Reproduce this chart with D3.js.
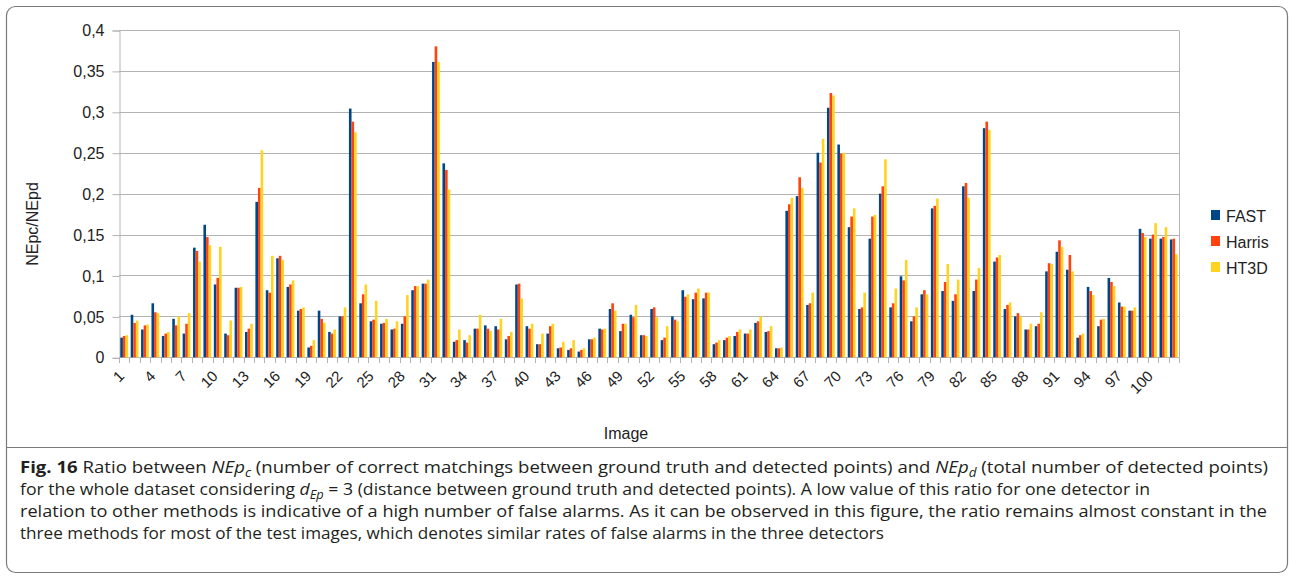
<!DOCTYPE html>
<html>
<head>
<meta charset="utf-8">
<script src="https://cdn.jsdelivr.net/npm/d3@7"></script>
<style>
  html, body { margin: 0; padding: 0; background: #ffffff; }
  svg { display: block; }
</style>
</head>
<body>
<svg id="chart" width="1291" height="577"></svg>
<script>
// ---------------- DATA ----------------
const categories = d3.range(1, 103).map(String);   // Image 1 .. 102
const seriesNames = ["FAST", "Harris", "HT3D"];
const seriesColors = ["#004586", "#ff420e", "#ffd320"];
const yTickValues = [0, 0.05, 0.1, 0.15, 0.2, 0.25, 0.3, 0.35, 0.4];
const yTickLabels = ["0", "0,05", "0,1", "0,15", "0,2", "0,25", "0,3", "0,35", "0,4"];

const fast = [
  0.024, 0.052, 0.034, 0.066, 0.026, 0.047, 0.029, 0.134, 0.162, 0.089,
  0.029, 0.085, 0.031, 0.190, 0.082, 0.121, 0.086, 0.057, 0.012, 0.057,
  0.031, 0.050, 0.304, 0.066, 0.044, 0.041, 0.034, 0.041, 0.082, 0.090,
  0.361, 0.237, 0.019, 0.021, 0.035, 0.039, 0.038, 0.022, 0.089, 0.038,
  0.016, 0.029, 0.011, 0.009, 0.007, 0.022, 0.035, 0.059, 0.032, 0.052,
  0.027, 0.059, 0.021, 0.050, 0.082, 0.071, 0.072, 0.016, 0.021, 0.026,
  0.029, 0.042, 0.031, 0.011, 0.179, 0.197, 0.064, 0.250, 0.305, 0.260,
  0.159, 0.059, 0.145, 0.200, 0.061, 0.099, 0.044, 0.077, 0.182, 0.081,
  0.069, 0.209, 0.081, 0.280, 0.117, 0.059, 0.050, 0.034, 0.038, 0.105,
  0.129, 0.107, 0.024, 0.086, 0.038, 0.097, 0.067, 0.057, 0.157, 0.145,
  0.145, 0.144
];
const harris = [
  0.026, 0.042, 0.039, 0.055, 0.029, 0.039, 0.041, 0.130, 0.147, 0.097,
  0.027, 0.085, 0.035, 0.207, 0.079, 0.124, 0.089, 0.059, 0.014, 0.047,
  0.029, 0.050, 0.288, 0.077, 0.046, 0.042, 0.035, 0.050, 0.087, 0.090,
  0.380, 0.229, 0.021, 0.018, 0.035, 0.035, 0.034, 0.026, 0.090, 0.035,
  0.016, 0.038, 0.012, 0.011, 0.009, 0.022, 0.034, 0.066, 0.041, 0.049,
  0.027, 0.061, 0.024, 0.046, 0.074, 0.079, 0.079, 0.018, 0.024, 0.031,
  0.029, 0.044, 0.032, 0.011, 0.187, 0.220, 0.066, 0.238, 0.323, 0.249,
  0.172, 0.061, 0.172, 0.209, 0.066, 0.094, 0.050, 0.082, 0.185, 0.092,
  0.077, 0.213, 0.095, 0.288, 0.122, 0.064, 0.054, 0.034, 0.041, 0.115,
  0.143, 0.125, 0.027, 0.081, 0.046, 0.092, 0.062, 0.057, 0.152, 0.150,
  0.147, 0.145
];
const ht3d = [
  0.027, 0.045, 0.040, 0.054, 0.031, 0.050, 0.054, 0.117, 0.137, 0.135,
  0.045, 0.086, 0.041, 0.253, 0.124, 0.119, 0.094, 0.061, 0.021, 0.042,
  0.034, 0.061, 0.275, 0.089, 0.069, 0.047, 0.044, 0.076, 0.087, 0.095,
  0.361, 0.205, 0.034, 0.027, 0.052, 0.032, 0.047, 0.031, 0.072, 0.041,
  0.029, 0.041, 0.019, 0.021, 0.011, 0.024, 0.035, 0.057, 0.041, 0.064,
  0.026, 0.049, 0.038, 0.044, 0.077, 0.084, 0.079, 0.021, 0.026, 0.034,
  0.034, 0.050, 0.038, 0.012, 0.195, 0.207, 0.079, 0.267, 0.320, 0.250,
  0.182, 0.079, 0.174, 0.242, 0.084, 0.119, 0.061, 0.077, 0.194, 0.114,
  0.095, 0.195, 0.109, 0.278, 0.125, 0.067, 0.050, 0.041, 0.055, 0.114,
  0.135, 0.105, 0.029, 0.076, 0.047, 0.087, 0.062, 0.061, 0.147, 0.164,
  0.159, 0.126
];
const seriesValues = [fast, harris, ht3d];

// ---------------- LAYOUT ----------------
const svg = d3.select("#chart");
const plot = { left: 119, right: 1179, top: 30, bottom: 357.3 };
const chartFont = "'Liberation Sans', Arial, sans-serif";
const gridColor = "#b3b3b3";

// frame
svg.append("rect")
  .attr("x", 6.5).attr("y", 6.5).attr("width", 1281).attr("height", 566)
  .attr("rx", 9).attr("ry", 9)
  .attr("fill", "none").attr("stroke", "#7a7a7a").attr("stroke-width", 1.2);
svg.append("line")
  .attr("x1", 6.5).attr("x2", 1287.5).attr("y1", 447.5).attr("y2", 447.5)
  .attr("stroke", "#7a7a7a").attr("stroke-width", 1.2);

// scales
const x0 = d3.scaleBand().domain(categories).range([plot.left, plot.right])
  .paddingInner(0.25).paddingOuter(0.125);
const x1 = d3.scaleBand().domain(seriesNames).range([0, x0.bandwidth()]).padding(0);
const y = d3.scaleLinear().domain([0, 0.4]).range([plot.bottom, plot.top]);

// grid
const g = svg.append("g");
g.selectAll("line.grid").data(yTickValues).enter().append("line")
  .attr("class", "grid")
  .attr("x1", plot.left).attr("x2", plot.right)
  .attr("y1", d => Math.round(y(d)) + 0.5).attr("y2", d => Math.round(y(d)) + 0.5)
  .attr("stroke", gridColor).attr("stroke-width", 1);

// right border of plot
g.append("line")
  .attr("x1", plot.right + 0.5).attr("x2", plot.right + 0.5)
  .attr("y1", Math.round(y(0.4)) + 0.5).attr("y2", Math.round(y(0)) + 0.5)
  .attr("stroke", gridColor);

// y axis
const yAxis = d3.axisLeft(y).tickValues(yTickValues)
  .tickFormat((d, i) => yTickLabels[i]).tickSize(7).tickPadding(8);
const yg = svg.append("g").attr("transform", `translate(${plot.left + 0.5},0.5)`).call(yAxis);
yg.select(".domain").attr("stroke", gridColor);
yg.selectAll(".tick line").attr("stroke", gridColor);
yg.selectAll(".tick text").attr("font-family", chartFont).attr("font-size", 16).attr("fill", "#222");

// x axis line + ticks at category boundaries
const xg = svg.append("g");
xg.append("line")
  .attr("x1", plot.left).attr("x2", plot.right)
  .attr("y1", Math.round(y(0)) + 0.5).attr("y2", Math.round(y(0)) + 0.5)
  .attr("stroke", gridColor);
const boundaries = categories.map(c => x0(c) - x0.step() * x0.paddingOuter()).concat([plot.right]);
xg.selectAll("line.xt").data(boundaries).enter().append("line")
  .attr("x1", d => Math.round(d) + 0.5).attr("x2", d => Math.round(d) + 0.5)
  .attr("y1", Math.round(y(0)) + 0.5).attr("y2", Math.round(y(0)) + 6)
  .attr("stroke", gridColor);

// x tick labels (every 3rd)
const labelCats = categories.filter((c, i) => i % 3 === 0);
xg.selectAll("text.xl").data(labelCats).enter().append("text")
  .attr("class", "xl")
  .attr("transform", d => `translate(${x0(d) + x0.bandwidth() / 2 + 1},377) rotate(-45)`)
  .attr("text-anchor", "end")
  .attr("font-family", chartFont).attr("font-size", 15).attr("fill", "#222")
  .text(d => d);

// bars
const groups = svg.append("g").selectAll("g").data(categories).enter().append("g")
  .attr("transform", d => `translate(${x0(d)},0)`);
groups.selectAll("rect").data((d, i) => seriesNames.map((s, k) => ({ s, k, v: seriesValues[k][i] })))
  .enter().append("rect")
  .attr("x", d => x1(d.s))
  .attr("width", x1.bandwidth())
  .attr("y", d => y(d.v))
  .attr("height", d => y(0) - y(d.v))
  .attr("fill", d => seriesColors[d.k]);

// axis titles
svg.append("text")
  .attr("x", 626).attr("y", 439).attr("text-anchor", "middle")
  .attr("font-family", chartFont).attr("font-size", 16).attr("fill", "#222")
  .text("Image");
svg.append("text")
  .attr("transform", "translate(38,224) rotate(-90)").attr("text-anchor", "middle")
  .attr("font-family", chartFont).attr("font-size", 16).attr("fill", "#222")
  .text("NEpc/NEpd");

// legend
const leg = svg.append("g");
seriesNames.forEach((s, k) => {
  const ly = 210 + k * 26;
  leg.append("rect").attr("x", 1211).attr("y", ly).attr("width", 9).attr("height", 10)
    .attr("fill", seriesColors[k]);
  leg.append("text").attr("x", 1226).attr("y", ly + 11.5)
    .attr("font-family", chartFont).attr("font-size", 16).attr("fill", "#222")
    .text(s);
});

// caption
const capFont = "'Open Sans', 'Noto Sans', sans-serif";
const lineY = [473, 495, 517, 539];
const lineW = [1248, 1130, 1247, 864];
function capLine(i, parts) {
  const t = svg.append("text")
    .attr("x", 20).attr("y", lineY[i])
    .attr("font-family", capFont).attr("font-size", 16.5).attr("fill", "#231f20")
    .attr("textLength", lineW[i]).attr("lengthAdjust", "spacingAndGlyphs");
  parts.forEach(p => {
    const s = t.append("tspan").text(p.t);
    if (p.bold) s.attr("font-weight", "bold");
    if (p.italic) s.attr("font-style", "italic");
    if (p.sub) s.attr("font-size", 12).attr("dy", 4);
    if (p.up) s.attr("dy", -4);
  });
}
capLine(0, [
  { t: "Fig. 16", bold: true },
  { t: " Ratio between " },
  { t: "NEp", italic: true },
  { t: "c", italic: true, sub: true },
  { t: " (number of correct matchings between ground truth and detected points) and ", up: true },
  { t: "NEp", italic: true },
  { t: "d", italic: true, sub: true },
  { t: " (total number of detected points)", up: true }
]);
capLine(1, [
  { t: "for the whole dataset considering " },
  { t: "d", italic: true },
  { t: "Ep", italic: true, sub: true },
  { t: " = 3 (distance between ground truth and detected points). A low value of this ratio for one detector in", up: true }
]);
capLine(2, [
  { t: "relation to other methods is indicative of a high number of false alarms. As it can be observed in this figure, the ratio remains almost constant in the" }
]);
capLine(3, [
  { t: "three methods for most of the test images, which denotes similar rates of false alarms in the three detectors" }
]);
</script>
</body>
</html>
